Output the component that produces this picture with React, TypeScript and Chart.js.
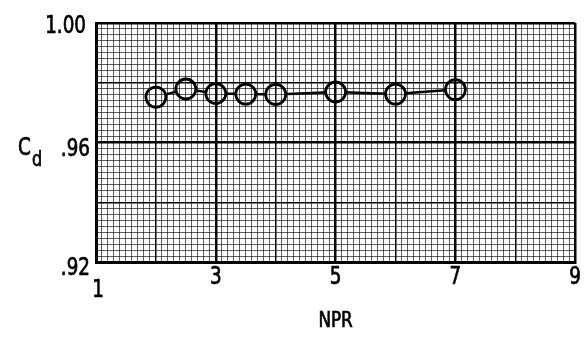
import React, { useEffect, useRef } from "react";
import { Chart, registerables } from "chart.js";

Chart.register(...registerables);

// Data
const npr = [2, 2.5, 3, 3.5, 4, 5, 6, 7];
const cd = [0.9752, 0.9779, 0.9764, 0.9762, 0.9761, 0.9769, 0.9762, 0.9777];

// Axis ranges and tick labels
const xMin = 1;
const xMax = 9;
const yMin = 0.92;
const yMax = 1.0;
const xTickValues = [1, 3, 5, 7, 9];
const xTickLabels = ["1", "3", "5", "7", "9"];
const yTickValues = [1.0, 0.96, 0.92];
const yTickLabels = ["1.00", ".96", ".92"];
const xTitle = "NPR";

const FONT = "'DejaVu Sans Condensed', 'DejaVu Sans', sans-serif";
const R = 10;
const SX = 0.85;

const xGridIndex = (v: number) => Math.round(v * 10); // 0.1 steps
const yGridIndex = (v: number) => Math.round(v * 500); // 0.002 steps

function drawText(ctx: CanvasRenderingContext2D, text: string, x: number, y: number, align: CanvasTextAlign, font: string) {
  ctx.save();
  ctx.font = font;
  ctx.textAlign = align;
  ctx.textBaseline = "alphabetic";
  ctx.translate(x, y);
  ctx.scale(SX, 1);
  ctx.fillText(text, 0, 0);
  ctx.lineWidth = 0.7;
  ctx.strokeStyle = "#000";
  ctx.strokeText(text, 0, 0);
  ctx.restore();
}

const clipPlugin = {
  id: "clipLine",
  beforeDatasetDraw(chart: any, args: any) {
    if (args.index !== 0) return;
    const ctx = chart.ctx;
    const meta = chart.getDatasetMeta(1);
    ctx.save();
    ctx.beginPath();
    ctx.rect(0, 0, chart.width, chart.height);
    meta.data.forEach((p: any) => {
      ctx.moveTo(p.x + R, p.y);
      ctx.arc(p.x, p.y, R, 0, Math.PI * 2);
    });
    ctx.clip("evenodd");
  },
  afterDatasetDraw(chart: any, args: any) {
    if (args.index !== 0) return;
    chart.ctx.restore();
  },
};

const labelPlugin = {
  id: "labels",
  afterDraw(chart: any) {
    const ctx = chart.ctx;
    const xs = chart.scales.x;
    const ys = chart.scales.y;
    ctx.save();
    ctx.fillStyle = "#000";
    const f24 = `24px ${FONT}`;
    // y tick labels
    const yOff = [10, 13, 13];
    const yRight = [86, 90, 90];
    yTickValues.forEach((v, i) => {
      drawText(ctx, yTickLabels[i], yRight[i], ys.getPixelForValue(v) + yOff[i], "right", f24);
    });
    // x tick labels
    xTickValues.forEach((v, i) => {
      const base = i === 0 ? 297 : 284;
      drawText(ctx, xTickLabels[i], xs.getPixelForValue(v) + (i === 0 ? 2 : 0), base, "center", f24);
    });
    // x title
    drawText(ctx, xTitle, (xs.left + xs.right) / 2, 327, "center", `22px ${FONT}`);
    // y title C_d
    drawText(ctx, "C", 18, 155, "left", f24);
    drawText(ctx, "d", 32, 166, "left", `21px ${FONT}`);
    ctx.restore();
  },
};

export default function App() {
  const ref = useRef<HTMLCanvasElement>(null);
  useEffect(() => {
    if (!ref.current) return;
    const pts = npr.map((x, i) => ({ x, y: cd[i] }));
    const chart = new Chart(ref.current, {
      type: "scatter",
      data: {
        datasets: [
          {
            data: pts,
            showLine: true,
            borderColor: "#000",
            borderWidth: 2.5,
            pointRadius: 0,
            pointHoverRadius: 0,
          },
          {
            data: pts,
            showLine: false,
            pointRadius: R,
            pointHoverRadius: R,
            pointBorderWidth: 2.8,
            pointBorderColor: "#000",
            pointBackgroundColor: "rgba(0,0,0,0)",
          },
        ],
      },
      plugins: [clipPlugin, labelPlugin],
      options: {
        responsive: false,
        animation: false,
        events: [],
        layout: { padding: { left: 96, top: 23, right: 9, bottom: 83 } },
        plugins: { legend: { display: false }, tooltip: { enabled: false } },
        scales: {
          x: {
            type: "linear",
            min: xMin,
            max: xMax,
            afterBuildTicks(scale: any) {
              const t: any[] = [];
              for (let i = 0; i <= 80; i++) t.push({ value: Math.round((xMin + i * 0.1) * 10) / 10 });
              scale.ticks = t;
            },
            ticks: { display: false },
            grid: {
              drawTicks: false,
              color: (c: any) => {
                const k = xGridIndex(c.tick.value);
                return (k - 10) % 20 === 0 || k % 10 === 0 ? "#000" : "rgba(0,0,0,0.62)";
              },
              lineWidth: (c: any) => {
                const k = xGridIndex(c.tick.value);
                if ((k - 10) % 20 === 0) return 2.5;
                if (k % 10 === 0) return 1.5;
                return 1;
              },
            },
            border: { display: true, color: "#000", width: 3 },
          },
          y: {
            type: "linear",
            min: yMin,
            max: yMax,
            afterBuildTicks(scale: any) {
              const t: any[] = [];
              for (let i = 0; i <= 40; i++) t.push({ value: Math.round((yMin + i * 0.002) * 1000) / 1000 });
              scale.ticks = t;
            },
            ticks: { display: false },
            grid: {
              drawTicks: false,
              color: (c: any) => {
                const k = yGridIndex(c.tick.value);
                return k % 10 === 0 ? "#000" : "rgba(0,0,0,0.62)";
              },
              lineWidth: (c: any) => {
                const k = yGridIndex(c.tick.value);
                if (k % 20 === 0) return 2.5;
                if (k % 10 === 0) return 1.5;
                return 1;
              },
            },
            border: { display: true, color: "#000", width: 3 },
          },
        },
      },
    });
    return () => chart.destroy();
  }, []);
  return (
    <div style={{ position: "fixed", left: 0, top: 0, width: 588, height: 345, background: "#fff" }}>
      <canvas ref={ref} width={588} height={345} style={{ display: "block" }} />
    </div>
  );
}
